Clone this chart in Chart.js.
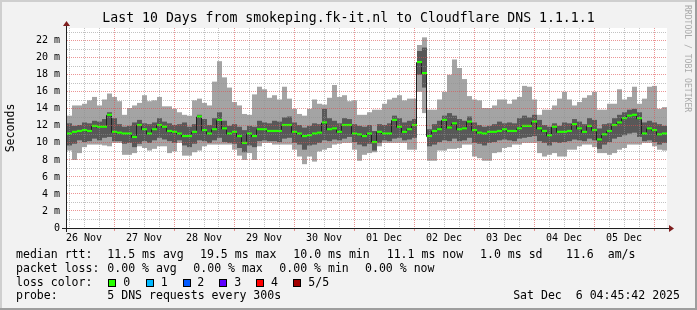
<!DOCTYPE html>
<html><head><meta charset="utf-8">
<script src="https://cdn.jsdelivr.net/npm/chart.js@4.4.1/dist/chart.umd.min.js"></script>
<style>
html,body{margin:0;padding:0;background:#f2f2f2;}
#wrap{position:relative;width:697px;height:310px;overflow:hidden;}
canvas{position:absolute;left:0;top:0;}
.t{position:absolute;font-family:'DejaVu Sans Mono',monospace;font-size:11.55px;line-height:14px;white-space:pre;color:#000;}
.box{position:absolute;width:6px;height:6px;border:1px solid #000;top:279px;}
#wm{position:absolute;left:683px;top:5px;font-family:'DejaVu Sans Mono',monospace;font-size:8.1px;line-height:10px;writing-mode:vertical-rl;color:#aaaaaa;white-space:pre;}
</style></head>
<body><div id="wrap"><canvas id="c" width="697" height="310"></canvas>
<div class="t" style="left:16px;top:247px">median rtt:</div>
<div class="t" style="left:107.3px;top:247px">11.5 ms avg</div>
<div class="t" style="left:200px;top:247px">19.5 ms max</div>
<div class="t" style="left:293.3px;top:247px">10.0 ms min</div>
<div class="t" style="left:386.7px;top:247px">11.1 ms now</div>
<div class="t" style="left:480px;top:247px">1.0 ms sd</div>
<div class="t" style="left:566px;top:247px">11.6</div>
<div class="t" style="left:607.7px;top:247px">am/s</div>
<div class="t" style="left:16px;top:260.8px">packet loss:</div>
<div class="t" style="left:107.3px;top:260.8px">0.00 % avg</div>
<div class="t" style="left:193.3px;top:260.8px">0.00 % max</div>
<div class="t" style="left:279.3px;top:260.8px">0.00 % min</div>
<div class="t" style="left:365px;top:260.8px">0.00 % now</div>
<div class="t" style="left:16px;top:274.6px">loss color:</div>
<div class="box" style="left:108px;background:#26ff00"></div><div class="t" style="left:123.3px;top:274.6px">0</div>
<div class="box" style="left:146px;background:#00b8ff"></div><div class="t" style="left:160.7px;top:274.6px">1</div>
<div class="box" style="left:183px;background:#0059ff"></div><div class="t" style="left:197.3px;top:274.6px">2</div>
<div class="box" style="left:219px;background:#5e00ff"></div><div class="t" style="left:234.3px;top:274.6px">3</div>
<div class="box" style="left:256px;background:#ff0000"></div><div class="t" style="left:271px;top:274.6px">4</div>
<div class="box" style="left:293px;background:#a10000"></div><div class="t" style="left:308.3px;top:274.6px">5/5</div>
<div class="t" style="left:16px;top:288.4px">probe:</div>
<div class="t" style="left:107.3px;top:288.4px">5 DNS requests every 300s</div>
<div class="t" style="right:17px;top:288.4px">Sat Dec  6 04:45:42 2025</div>
<div id="wm">RRDTOOL / TOBI OETIKER</div>
</div>
<script>
// ---- data (ms), one value per 2-hour step starting 26 Nov ~05:12 ----
const startHour = 5.2;   // hours after 26 Nov 00:00
const stepHours = 2;
const pingMin = [9.1,8.0,8.8,9.5,9.8,9.8,9.8,9.7,9.6,10.0,
 10.0,8.6,8.6,8.8,9.6,9.4,9.1,9.3,9.6,9.6,
 8.8,9.0,10.0,8.5,8.5,8.9,9.1,9.6,9.8,9.8,
 9.8,9.8,9.8,9.2,8.5,8.0,8.8,8.0,9.6,10.0,
 10.0,9.8,9.8,9.8,9.8,9.2,8.4,7.5,8.4,7.8,
 9.0,9.2,9.4,9.8,9.9,10.0,10.0,9.2,7.9,8.6,
 8.8,8.9,9.6,10.0,10.0,10.0,10.0,10.0,9.2,9.2,
 16.0,13.5,7.9,7.9,9.1,9.1,9.3,9.3,9.4,9.8,
 9.8,8.4,8.2,7.9,7.9,8.8,8.9,9.4,9.5,9.8,
 9.8,10.0,10.0,10.0,8.8,8.4,8.6,8.8,8.4,8.4,
 9.2,9.2,9.6,9.8,9.8,9.5,8.8,8.8,8.6,8.8,
 9.2,9.4,9.8,9.8,9.8,10.0,10.0,9.6,9.2,9.1];
const ping2 = [9.7,9.9,10.3,10.1,10.2,10.5,10.3,10.6,10.7,10.2,
 10.2,9.9,10.0,9.5,9.9,10.2,10.0,10.3,10.6,10.4,
 10.2,10.0,10.3,9.7,9.5,9.9,10.3,10.2,10.0,10.3,
 10.6,10.1,10.0,9.9,9.4,8.9,9.7,9.5,10.2,10.3,
 10.2,10.2,10.1,10.5,10.6,10.0,9.8,9.2,9.7,9.8,
 10.0,10.3,10.2,10.4,10.3,10.5,10.7,10.1,9.8,9.6,
 9.9,9.1,10.0,10.3,10.2,10.5,10.6,10.3,10.4,10.6,
 18.0,16.5,9.6,9.8,10.1,10.3,10.2,10.5,10.2,10.3,
 10.6,10.0,9.9,9.7,10.0,10.1,10.3,10.4,10.3,10.2,
 10.5,10.6,10.7,10.8,10.2,10.0,9.7,10.1,10.0,10.1,
 10.2,10.4,10.3,10.2,10.5,10.3,9.3,9.8,10.1,10.5,
 10.7,10.9,11.1,11.2,10.7,10.2,10.3,10.1,9.8,10.0];
const median = [11.1,11.3,11.4,11.5,11.4,12.0,11.9,11.9,13.3,11.3,
 11.2,11.1,11.1,10.7,12.1,11.6,11.1,11.6,12.1,11.9,
 11.4,11.3,11.1,10.8,10.8,11.3,13.1,11.5,11.1,11.6,
 12.7,11.7,11.1,11.3,10.8,10.0,11.1,10.8,11.6,11.6,
 11.4,11.4,11.4,12.1,12.1,11.3,11.1,10.8,10.9,11.1,
 11.2,12.4,11.6,11.7,11.3,12.1,12.1,11.1,11.0,10.8,
 11.1,10.1,11.3,11.1,11.1,12.7,11.9,11.3,11.6,12.1,
 19.5,18.2,10.8,11.4,11.6,12.7,11.8,12.3,11.6,11.7,
 12.5,11.5,11.2,11.1,11.3,11.3,11.4,11.6,11.4,11.4,
 11.7,12.0,12.0,12.5,11.7,11.4,10.9,11.9,11.3,11.3,
 11.4,12.2,11.7,11.3,12.0,11.5,10.4,11.0,11.4,12.1,
 12.4,12.9,13.2,13.3,12.9,11.1,11.7,11.5,11.0,11.1];
const ping4 = [12.3,12.0,12.1,12.4,12.3,12.6,12.5,12.8,13.6,12.9,
 12.2,11.9,12.0,12.4,12.7,12.3,12.2,12.4,12.9,12.5,
 12.3,12.1,12.2,12.4,11.9,12.2,13.3,12.8,12.1,12.9,
 13.6,12.6,12.0,12.2,11.9,11.5,12.0,11.9,12.6,12.4,
 12.3,12.6,12.5,13.0,13.1,12.4,12.1,11.8,12.0,12.3,
 12.2,14.0,12.9,12.6,12.3,12.9,12.8,12.2,12.0,11.9,
 12.1,11.4,12.2,12.1,12.3,13.2,12.9,12.4,12.6,12.8,
 20.8,21.2,11.6,12.2,12.6,13.2,13.5,13.2,12.8,12.6,
 13.1,12.4,12.1,11.9,12.0,12.2,12.5,12.3,12.4,12.3,
 12.9,13.2,13.0,13.3,12.7,12.1,11.9,12.3,12.0,12.4,
 12.3,12.8,12.5,12.2,12.9,12.7,11.7,12.2,12.3,12.9,
 13.3,13.6,13.9,14.0,13.6,12.4,12.6,12.4,12.2,12.0];
const pingMax = [13.2,14.4,14.4,14.6,15.0,15.4,14.4,15.1,15.8,15.4,
 14.9,13.3,14.1,14.4,14.7,15.6,14.9,15.0,15.4,14.3,
 14.3,14.0,13.6,13.3,13.2,15.0,15.2,14.7,14.4,17.2,
 19.6,17.7,16.5,14.8,14.4,13.4,13.3,15.7,16.6,16.3,
 15.3,15.6,15.1,16.6,15.2,14.0,13.4,13.2,14.0,15.1,
 14.6,14.5,15.3,16.8,15.4,15.6,14.9,15.0,13.3,13.3,
 13.6,13.9,13.9,14.6,15.1,15.3,15.6,15.0,15.2,15.2,
 21.5,22.4,13.9,13.9,15.1,16.0,18.0,19.8,18.8,17.5,
 15.5,15.1,15.0,14.1,14.1,14.4,15.1,15.1,14.6,15.1,
 15.4,16.7,16.6,15.1,13.3,13.9,13.9,14.4,15.2,16.0,
 15.1,14.4,14.8,15.3,15.6,16.0,13.9,13.9,14.6,14.6,
 16.3,15.1,15.4,16.6,14.6,15.2,16.6,16.7,14.0,14.2];
const dayLabels = ['26 Nov','27 Nov','28 Nov','29 Nov','30 Nov','01 Dec','02 Dec','03 Dec','04 Dec','05 Dec'];
const xTickHours = Array.from({length: 40}, (_, k) => 6 * (k + 1));
const yTickValues = Array.from({length: 24}, (_, k) => k);
const categories = median.map((_, i) => (startHour + i * stepHours).toFixed(1));
const markerHalf = 0.13;

const MONO = "'DejaVu Sans Mono', monospace";
const MAJOR = 'rgba(222,79,79,0.6)';
const MINOR = 'rgba(143,143,143,0.55)';

const framePlugin = {
  id: 'frame',
  beforeDraw(chart) {
    const {ctx, chartArea: a} = chart;
    ctx.save();
    ctx.fillStyle = '#f2f2f2'; ctx.fillRect(0, 0, 697, 310);
    ctx.fillStyle = '#cfcfcf'; ctx.fillRect(0, 0, 697, 2); ctx.fillRect(0, 0, 2, 310);
    ctx.fillStyle = '#9e9e9e'; ctx.fillRect(0, 308, 697, 2); ctx.fillRect(695, 0, 2, 310);
    ctx.fillStyle = '#ffffff'; ctx.fillRect(a.left, a.top, a.right - a.left, a.bottom - a.top);
    ctx.restore();
  },
  beforeDatasetDraw(chart, args) {
    if (args.index === 2) { chart.ctx.save(); chart.ctx.translate(-0.5, 0.5); }
  },
  afterDatasetDraw(chart, args) {
    if (args.index === 2) chart.ctx.restore();
  },
  afterDraw(chart) {
    const {ctx, chartArea: a} = chart;
    ctx.save();
    ctx.fillStyle = '#1f1f1f';
    ctx.fillRect(a.left - 5, a.bottom, a.right - a.left + 7, 1);
    ctx.fillRect(a.left - 1, a.top - 4, 1, a.bottom - a.top + 8);
    ctx.fillStyle = '#7f1f1f';
    ctx.beginPath(); ctx.moveTo(a.right + 2, a.bottom - 3); ctx.lineTo(a.right + 7, a.bottom + 0.5); ctx.lineTo(a.right + 2, a.bottom + 4); ctx.closePath(); ctx.fill();
    ctx.beginPath(); ctx.moveTo(a.left - 4, a.top - 2); ctx.lineTo(a.left - 0.5, a.top - 7); ctx.lineTo(a.left + 3, a.top - 2); ctx.closePath(); ctx.fill();
    ctx.restore();
  }
};

const barCommon = {barPercentage: 1, categoryPercentage: 1, borderWidth: 0, borderSkipped: false, inflateAmount: 0, grouped: false, xAxisID: 'x', yAxisID: 'y'};

new Chart(document.getElementById('c'), {
  type: 'bar',
  data: {
    labels: categories,
    datasets: [
      Object.assign({label: 'ping 1-5', data: pingMin.map((v, i) => [v, pingMax[i]]), backgroundColor: '#a4a4a4', order: 4}, barCommon),
      Object.assign({label: 'ping 2-4', data: ping2.map((v, i) => [v, ping4[i]]), backgroundColor: '#585858', order: 3}, barCommon),
      {type: 'line', label: 'median', data: median, borderColor: '#202020', borderWidth: 1, stepped: 'middle', pointRadius: 0, fill: false, order: 2, xAxisID: 'x', yAxisID: 'y'},
      Object.assign({label: 'loss 0', data: median.map(m => [m - markerHalf, m + markerHalf]), backgroundColor: '#26ff00', order: 1}, barCommon)
    ]
  },
  options: {
    responsive: false,
    devicePixelRatio: 1,
    animation: false,
    events: [],
    layout: {padding: 0},
    plugins: {
      legend: {display: false},
      tooltip: {enabled: false},
      title: {
        display: true,
        text: 'Last 10 Days from smokeping.fk-it.nl to Cloudflare DNS 1.1.1.1',
        color: '#000',
        font: {family: MONO, size: 13.2, weight: 'normal', lineHeight: '16px'},
        padding: {top: 11, bottom: 1}
      }
    },
    scales: {
      x: {type: 'category', display: false, offset: true},
      xt: {
        type: 'linear', position: 'bottom', min: startHour, max: startHour + 240,
        offset: false,
        afterBuildTicks: s => { s.ticks = xTickHours.map(v => ({value: v})); },
        afterFit: s => { s.height = 82; },
        grid: {
          z: 1, lineWidth: 1, offset: false,
          color: c => (c.tick && c.tick.value % 24 === 0) ? MAJOR : MINOR,
          drawTicks: true, tickLength: 3,
          tickColor: c => (c.tick && c.tick.value % 24 === 0) ? MAJOR : 'rgba(0,0,0,0)'
        },
        border: {display: false, dash: [1, 1]},
        ticks: {
          autoSkip: false, maxRotation: 0, minRotation: 0, padding: 1,
          color: '#000', font: {family: MONO, size: 10},
          callback: v => (v % 24 === 12) ? dayLabels[(v - 12) / 24] : ''
        }
      },
      y: {
        type: 'linear', position: 'left', min: 0, max: 23.5,
        afterBuildTicks: s => { s.ticks = yTickValues.map(v => ({value: v})); },
        afterFit: s => { s.width = 67; },
        grid: {z: 1, lineWidth: 1, drawTicks: false, color: c => (c.tick && c.tick.value % 2 === 0) ? MAJOR : MINOR},
        border: {display: false, dash: [1, 1]},
        title: {display: true, text: 'Seconds', color: '#000', font: {family: MONO, size: 11.55}, padding: {top: 4, bottom: 0}},
        ticks: {
          autoSkip: false, padding: 7, color: '#000', font: {family: MONO, size: 10},
          callback: v => (v % 2 === 0) ? (v === 0 ? '0' : v + ' m') : ''
        }
      },
      yr: {
        type: 'linear', position: 'right', min: 0, max: 1,
        afterFit: s => { s.width = 30; },
        grid: {display: false}, border: {display: false}, ticks: {display: false}
      }
    }
  },
  plugins: [framePlugin]
});
</script>
</body></html>
